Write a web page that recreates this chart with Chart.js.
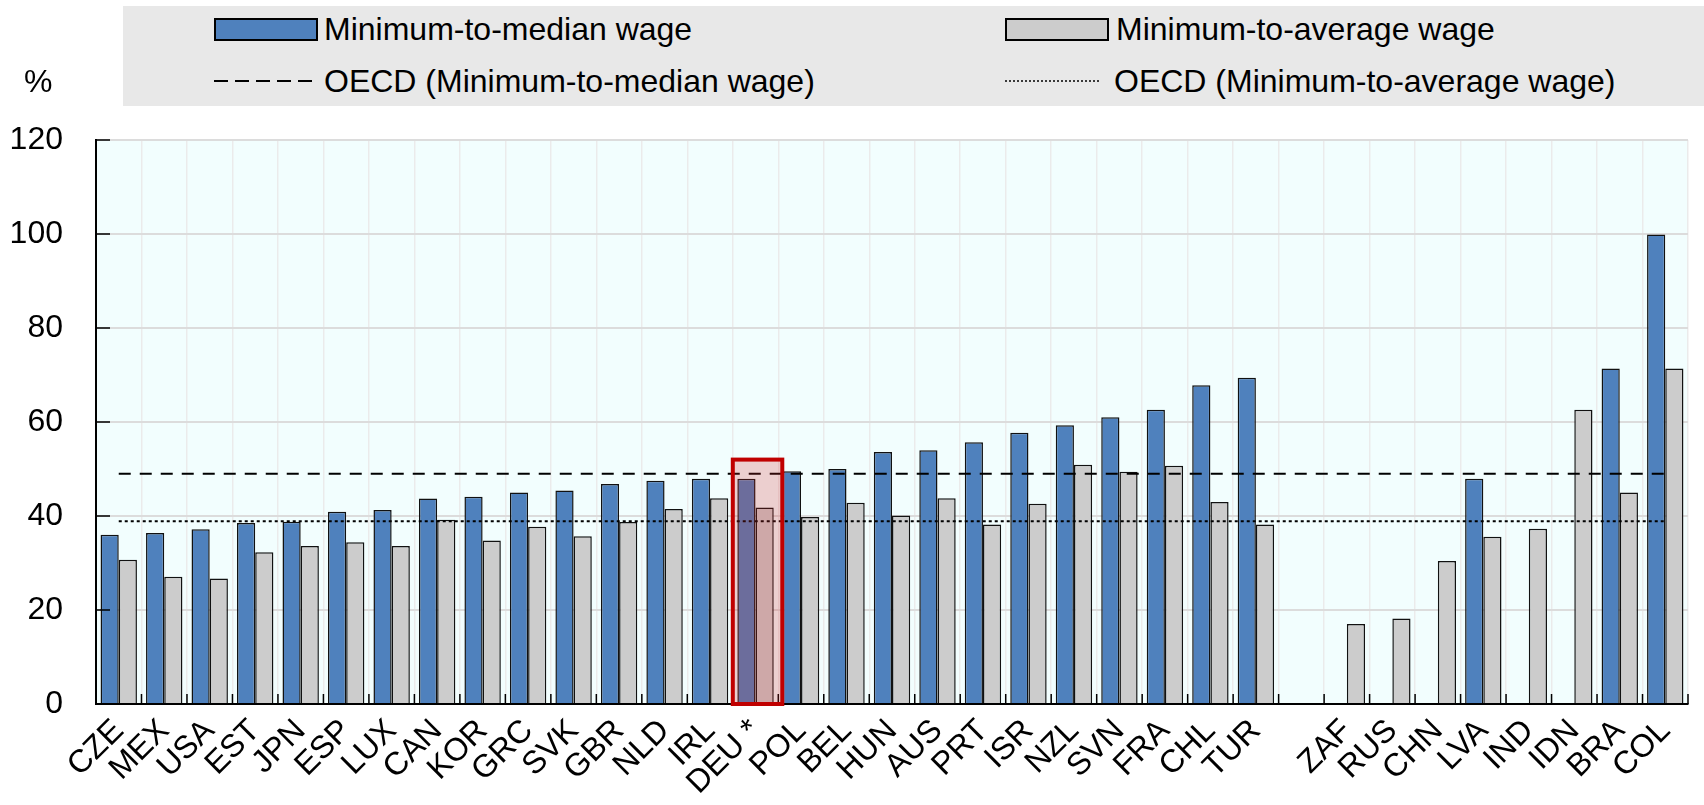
<!DOCTYPE html>
<html>
<head>
<meta charset="utf-8">
<script src="https://cdn.jsdelivr.net/npm/chart.js@4"></script>
<style>
  body { margin: 0; background: #fff; font-family: "Liberation Sans", Arial, sans-serif; }
  #wrap { position: relative; width: 1704px; height: 805px; }
  #legend { position: absolute; left: 123px; top: 6px; width: 1581px; height: 100px; background: #E8E8E8; }
  .txt { position: absolute; font-size: 32px; line-height: 34px; color: #000; white-space: nowrap; }
  .box { position: absolute; width: 104px; height: 23px; border: 2px solid #000; box-sizing: border-box; }
  .smp { position: absolute; }
  #unit { position: absolute; left: 24px; top: 64px; }
  canvas { position: absolute; left: 0; top: 0; }
</style>
</head>
<body>
<div id="wrap">
  <canvas id="wageChart" width="1704" height="805"></canvas>
  <div id="legend">
    <div class="box" style="left:91px; top:12px; background:#4F81BD;"></div>
    <div class="txt" style="left:201px; top:6px;">Minimum-to-median wage</div>
    <div class="box" style="left:882px; top:12px; background:#CCCCCC;"></div>
    <div class="txt" style="left:993px; top:6px;">Minimum-to-average wage</div>
    <svg class="smp" style="left:91px; top:69px;" width="104" height="12">
      <line x1="0" y1="6" x2="104" y2="6" stroke="#000" stroke-width="2" stroke-dasharray="14 7"></line>
    </svg>
    <div class="txt" style="left:201px; top:58px;">OECD (Minimum-to-median wage)</div>
    <svg class="smp" style="left:882px; top:69px;" width="94" height="12">
      <line x1="0" y1="6" x2="94" y2="6" stroke="#000" stroke-width="1.5" stroke-dasharray="2 2"></line>
    </svg>
    <div class="txt" style="left:991px; top:58px;">OECD (Minimum-to-average wage)</div>
  </div>
  <div id="unit" class="txt">%</div>
</div>
<script>
// categories (blank entry = gap between OECD and non-OECD groups)
const categories = ["CZE", "MEX", "USA", "EST", "JPN", "ESP", "LUX", "CAN", "KOR", "GRC", "SVK", "GBR", "NLD", "IRL", "DEU *",
  "POL", "BEL", "HUN", "AUS", "PRT", "ISR", "NZL", "SVN", "FRA", "CHL", "TUR", "",
  "ZAF", "RUS", "CHN", "LVA", "IND", "IDN", "BRA", "COL"];

const medianWage = [36.0, 36.4, 37.2, 38.5, 38.8, 40.9, 41.3, 43.7, 44.1, 45.0, 45.4, 46.8, 47.5, 47.9, 47.9,
  49.5, 50.0, 53.6, 54.0, 55.7, 57.7, 59.3, 61.0, 62.6, 67.8, 69.4, null,
  null, null, null, 47.9, null, null, 71.4, 99.9];

const averageWage = [30.7, 27.1, 26.7, 32.3, 33.6, 34.4, 33.6, 39.2, 34.8, 37.7, 35.7, 38.7, 41.5, 43.8, 41.8,
  39.8, 42.8, 40.1, 43.8, 38.2, 42.6, 50.9, 49.4, 50.7, 43.0, 38.2, null,
  17.0, 18.2, 30.4, 35.6, 37.3, 62.6, 45.0, 71.4];

const oecdMedian = 49.0;
const oecdAverage = 38.9;

const yTicks = [0, 20, 40, 60, 80, 100, 120];

// highlighted country
const highlightCategory = "DEU *";
const highlightTop = 52;

Chart.defaults.font.family = '"Liberation Sans", Arial, sans-serif';
Chart.defaults.font.size = 32;
Chart.defaults.color = "#000";

const plotBg = {
  id: "plotBg",
  beforeDraw(chart) {
    const { ctx, chartArea: a } = chart;
    ctx.save();
    ctx.fillStyle = "#F2FEFE";
    ctx.fillRect(a.left, a.top, a.width, a.height);
    ctx.restore();
  },
};

// short inward tick marks on both axes
const axisTicks = {
  id: "axisTicks",
  afterDatasetsDraw(chart) {
    const { ctx, scales: { x, y } } = chart;
    ctx.save();
    ctx.strokeStyle = "#000";
    ctx.lineWidth = 1.5;
    ctx.beginPath();
    for (let k = 1; k <= categories.length; k++) {
      const px = x.getPixelForValue(k - 0.5);
      ctx.moveTo(px, y.bottom);
      ctx.lineTo(px, y.bottom - 10);
    }
    yTicks.forEach((v) => {
      const py = y.getPixelForValue(v);
      ctx.moveTo(x.left, py);
      ctx.lineTo(x.left + 14, py);
    });
    ctx.stroke();
    ctx.restore();
  },
};

const highlight = {
  id: "highlight",
  afterDatasetsDraw(chart) {
    const { ctx, scales: { x, y } } = chart;
    const i = categories.indexOf(highlightCategory);
    const half = (x.getPixelForValue(1) - x.getPixelForValue(0)) / 2 + 2;
    const cx = x.getPixelForValue(i) + 2;
    const top = y.getPixelForValue(highlightTop);
    const bottom = y.getPixelForValue(0);
    ctx.save();
    ctx.fillStyle = "rgba(215, 40, 40, 0.22)";
    ctx.fillRect(cx - half, top, half * 2, bottom - top);
    ctx.strokeStyle = "#C00000";
    ctx.lineWidth = 4;
    ctx.strokeRect(cx - half, top, half * 2, bottom - top);
    ctx.restore();
  },
};

new Chart(document.getElementById("wageChart"), {
  type: "bar",
  data: {
    labels: categories,
    datasets: [
      {
        label: "Minimum-to-median wage",
        data: medianWage,
        backgroundColor: "#4F81BD",
        borderColor: "#111",
        borderWidth: 1.5,
        categoryPercentage: 0.8,
        barPercentage: 1.0,
        order: 1,
      },
      {
        label: "Minimum-to-average wage",
        data: averageWage,
        backgroundColor: "#CCCCCC",
        borderColor: "#111",
        borderWidth: 1.5,
        categoryPercentage: 0.8,
        barPercentage: 1.0,
        order: 1,
      },
      {
        type: "line",
        label: "OECD (Minimum-to-median wage)",
        data: [{ x: categories[0], y: oecdMedian }, { x: categories[categories.length - 1], y: oecdMedian }],
        borderColor: "#000",
        borderWidth: 2,
        borderDash: [12, 9],
        pointRadius: 0,
        fill: false,
        order: 0,
      },
      {
        type: "line",
        label: "OECD (Minimum-to-average wage)",
        data: [{ x: categories[0], y: oecdAverage }, { x: categories[categories.length - 1], y: oecdAverage }],
        borderColor: "#000",
        borderWidth: 2,
        borderDash: [3, 3],
        pointRadius: 0,
        fill: false,
        order: 0,
      },
    ],
  },
  options: {
    responsive: false,
    animation: false,
    layout: { padding: { top: 140, right: 16, left: 0, bottom: 0 } },
    plugins: {
      legend: { display: false },
      tooltip: { enabled: false },
    },
    scales: {
      x: {
        offset: true,
        grid: { color: "#EBEBEB", lineWidth: 1.5, offset: true, drawTicks: false },
        border: { color: "#000", width: 2 },
        ticks: { autoSkip: false, minRotation: 45, maxRotation: 45, padding: 8, font: { size: 32 } },
        afterFit(scale) { scale.height = 101; },
      },
      y: {
        min: 0,
        max: 120,
        grid: { color: "#DCDCDC", lineWidth: 2, drawTicks: false },
        border: { color: "#000", width: 2 },
        ticks: { stepSize: 20, padding: 33, font: { size: 32 } },
        afterFit(scale) { scale.width = 96; },
      },
    },
  },
  plugins: [plotBg, axisTicks, highlight],
});
</script>
</body>
</html>
